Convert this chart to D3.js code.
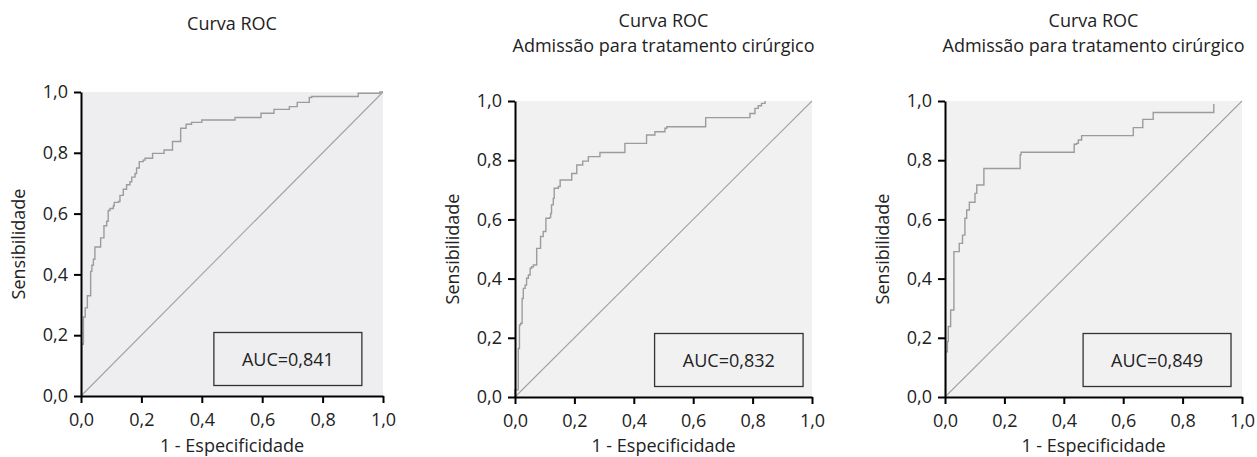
<!DOCTYPE html>
<html>
<head>
<meta charset="utf-8">
<script src="https://cdn.jsdelivr.net/npm/d3@7"></script>
<style>
    body { margin: 0; background: #fff; }
    svg { display: block; font-family: "Open Sans", sans-serif; }
    .axis path, .axis line { stroke: #000; stroke-width: 2; }
    .axis text { font-size: 18px; fill: #222; font-family: "Open Sans", sans-serif; }
</style>
</head>
<body>
<script>
// ROC points [1 - especificidade, sensibilidade]
var roc1 = [[0, 0], [0.002, 0.17], [0.008, 0.26], [0.014, 0.29], [0.021, 0.33], [0.032, 0.41],
    [0.036, 0.43], [0.041, 0.45], [0.046, 0.49], [0.065, 0.52], [0.076, 0.56], [0.085, 0.575],
    [0.090, 0.61], [0.096, 0.617], [0.107, 0.625], [0.110, 0.637], [0.124, 0.64], [0.129, 0.66],
    [0.140, 0.68], [0.151, 0.695], [0.162, 0.705], [0.168, 0.72], [0.179, 0.732], [0.184, 0.75],
    [0.193, 0.771], [0.206, 0.776], [0.212, 0.782], [0.237, 0.798], [0.275, 0.809], [0.303, 0.837],
    [0.330, 0.881], [0.348, 0.894], [0.366, 0.90], [0.400, 0.908], [0.510, 0.916], [0.596, 0.93],
    [0.639, 0.943], [0.690, 0.952], [0.716, 0.966], [0.756, 0.982], [0.764, 0.985], [0.918, 0.996],
    [0.99, 1.0], [1, 1]];

var roc2 = [[0, 0], [0, 0.024], [0.011, 0.164], [0.015, 0.243], [0.019, 0.249], [0.024, 0.333],
    [0.028, 0.367], [0.034, 0.378], [0.039, 0.401], [0.045, 0.412], [0.051, 0.435], [0.056, 0.44],
    [0.062, 0.446], [0.073, 0.502], [0.086, 0.542], [0.095, 0.559], [0.104, 0.604], [0.116, 0.606],
    [0.120, 0.62], [0.123, 0.649], [0.129, 0.671], [0.132, 0.705], [0.146, 0.711], [0.152, 0.733],
    [0.191, 0.755], [0.208, 0.784], [0.228, 0.797], [0.247, 0.812], [0.286, 0.826], [0.370, 0.857],
    [0.443, 0.885], [0.471, 0.896], [0.505, 0.908], [0.511, 0.913], [0.642, 0.944], [0.791, 0.958],
    [0.808, 0.975], [0.819, 0.984], [0.830, 0.992], [0.842, 1.0]];

var roc3 = [[0, 0], [0.002, 0.153], [0.008, 0.187], [0.011, 0.238], [0.019, 0.294], [0.030, 0.491],
    [0.048, 0.519], [0.059, 0.547], [0.067, 0.604], [0.073, 0.632], [0.082, 0.658], [0.101, 0.688],
    [0.107, 0.716], [0.131, 0.772], [0.253, 0.818], [0.256, 0.827], [0.435, 0.854], [0.443, 0.857],
    [0.449, 0.868], [0.460, 0.883], [0.634, 0.910], [0.666, 0.938], [0.701, 0.961], [0.905, 0.99]];

var aucLabels = ["AUC=0,841", "AUC=0,832", "AUC=0,849"];
var titles = [
    ["Curva ROC"],
    ["Curva ROC", "Admissão para tratamento cirúrgico"],
    ["Curva ROC", "Admissão para tratamento cirúrgico"]
];
var tickValues = [0, 0.2, 0.4, 0.6, 0.8, 1.0];
var xLabel = "1 - Especificidade";
var yLabel = "Sensibilidade";

var W = 1257, H = 457;
var svg = d3.select("body").append("svg")
    .attr("width", W)
    .attr("height", H);

var fmt = d3.formatLocale({decimal: ",", thousands: ".", grouping: [3], currency: ["", ""]}).format(".1f");

// panel placement
var layout = [
    {left: 81, top: 92, w: 302, h: 304, bg: "#eeeef0", box: [0.44, 0.93], titleY: 30},
    {left: 515, top: 101, w: 297, h: 296, bg: "#f1f1f1", box: [0.47, 0.97], titleY: 27},
    {left: 945, top: 101, w: 297, h: 296, bg: "#f1f1f1", box: [0.465, 0.963], titleY: 27}
];
var curves = [roc1, roc2, roc3];

layout.forEach(function(p, i) {
    var g = svg.append("g").attr("transform", "translate(" + p.left + "," + p.top + ")");
    var x = d3.scaleLinear().domain([0, 1]).range([0, p.w]);
    var y = d3.scaleLinear().domain([0, 1]).range([p.h, 0]);

    g.append("rect")
        .attr("width", p.w)
        .attr("height", p.h)
        .attr("fill", p.bg);

    // reference diagonal
    g.append("line")
        .attr("x1", x(0)).attr("y1", y(0))
        .attr("x2", x(1)).attr("y2", y(1))
        .attr("stroke", "#a2a2a2")
        .attr("stroke-width", 1.1);

    var line = d3.line()
        .curve(d3.curveStepAfter)
        .x(function(d) { return x(d[0]); })
        .y(function(d) { return y(d[1]); });

    g.append("path")
        .datum(curves[i])
        .attr("d", line)
        .attr("fill", "none")
        .attr("stroke", "#9c9c9c")
        .attr("stroke-width", 1.4);

    // AUC box
    var bx0 = x(p.box[0]), bx1 = x(p.box[1]);
    var by0 = p.h - 63.5, by1 = p.h - 10.5;
    g.append("rect")
        .attr("x", bx0).attr("y", by0)
        .attr("width", bx1 - bx0).attr("height", by1 - by0)
        .attr("fill", "none")
        .attr("stroke", "#333")
        .attr("stroke-width", 1.3);
    g.append("text")
        .attr("x", (bx0 + bx1) / 2)
        .attr("y", (by0 + by1) / 2 + 6.5)
        .attr("text-anchor", "middle")
        .attr("font-size", 18)
        .attr("fill", "#222")
        .text(aucLabels[i]);

    // axes
    g.append("g")
        .attr("class", "axis")
        .attr("transform", "translate(0," + p.h + ")")
        .call(d3.axisBottom(x).tickValues(tickValues).tickFormat(fmt).tickSize(7).tickSizeOuter(0).tickPadding(10));
    g.append("g")
        .attr("class", "axis")
        .call(d3.axisLeft(y).tickValues(tickValues).tickFormat(fmt).tickSize(7).tickSizeOuter(0).tickPadding(6));

    // labels
    g.append("text")
        .attr("x", p.w / 2)
        .attr("y", 452 - p.top)
        .attr("text-anchor", "middle")
        .attr("font-size", 18)
        .attr("fill", "#222")
        .text(xLabel);
    g.append("text")
        .attr("transform", "translate(-62," + (p.h / 2) + ") rotate(-90)")
        .attr("text-anchor", "middle")
        .attr("dy", "0.35em")
        .attr("font-size", 18)
        .attr("fill", "#222")
        .text(yLabel);

    // title lines
    titles[i].forEach(function(t, k) {
        g.append("text")
            .attr("x", p.w / 2)
            .attr("y", p.titleY + k * 25 - p.top)
            .attr("text-anchor", "middle")
            .attr("font-size", 18)
            .attr("fill", "#222")
            .text(t);
    });
});
</script>
</body>
</html>
